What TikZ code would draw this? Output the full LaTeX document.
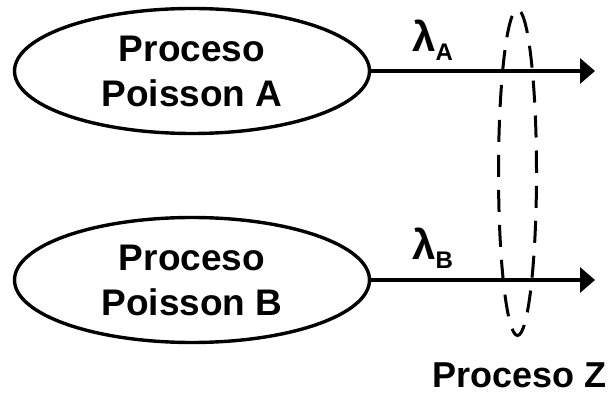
\documentclass[tikz,border=0pt]{standalone}
\usepackage{fontspec}
\setmainfont{Liberation Sans}
\usetikzlibrary{shapes.geometric,arrows.meta}
\tikzset{
  proc/.style={draw, ellipse, line width=3.4pt, inner sep=0pt, minimum width=355pt, minimum height=125pt,
    align=center, font=\fontsize{37}{45}\selectfont\bfseries},
  arr/.style={line width=3.4pt, -{Triangle[length=15pt,width=25pt]}},
  lam/.style={anchor=base west, inner sep=0pt},
  grp/.style={draw, ellipse, dash pattern=on 22pt off 13pt, line width=3pt,
    minimum width=38pt, minimum height=326pt, inner sep=0pt},
  lbl/.style={font=\fontsize{36}{45}\selectfont\bfseries, inner sep=0pt}
}
\newcommand{\mylam}[1]{{\fontsize{42}{42}\selectfont\bfseries λ}\raisebox{-9pt}{\fontsize{24}{24}\selectfont\bfseries #1}}
\begin{document}
\begin{tikzpicture}[x=1pt,y=-1pt]
\useasboundingbox (0,0) rectangle (610,395);
\node[proc] (A) at (192,71) {Proceso\\Poisson A};
\node[proc] (B) at (192,280) {Proceso\\Poisson B};
\coordinate (eA) at (595,71);
\coordinate (eB) at (595,280);
\draw[arr] (A.east) -- (eA);
\draw[arr] (B.east) -- (eB);
\node[lam] (lA) at (412,52) {\mylam{A}};
\node[lam] (lB) at (412,260) {\mylam{B}};
\node[grp] (Z) at (517.5,172.5) {};
\node[lbl, anchor=base] (pz) at (519.5,387) {Proceso Z};
\end{tikzpicture}
\end{document}
